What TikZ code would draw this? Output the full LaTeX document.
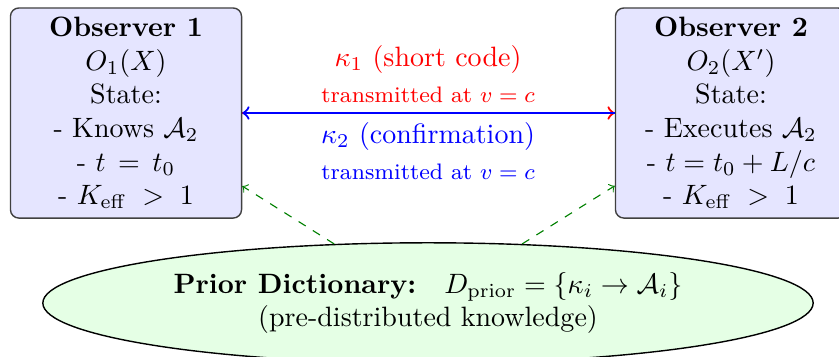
\documentclass[tikz,border=0pt]{standalone}
\usetikzlibrary{shapes.geometric}
\tikzset{
  observer/.style={draw=black!75, line width=0.5pt, rounded corners=3pt, fill=blue!10,
    align=center, minimum width=82.5pt, minimum height=75pt, inner sep=2pt},
  dict/.style={ellipse, draw=black, line width=0.5pt, fill=green!10, align=center,
    minimum width=275pt, minimum height=43pt, inner sep=1pt},
  link/.style={->, thick},
  prior/.style={->, dashed, green!50!black, line width=0.4pt},
  lab/.style={inner sep=0pt}
}
\begin{document}
\begin{tikzpicture}[x=0.357pt,y=-0.357pt]
\useasboundingbox (0,0) rectangle (839,356);
\clip (0,0) rectangle (839,356);
\node[observer] (obs1) at (126,113) {\textbf{Observer 1}\\$O_1(X)$\\State:\\- Knows $\mathcal{A}_2$\\- $t\,=\,t_0$\\- $K_{\mathrm{eff}}\;>\;1$};
\node[observer] (obs2) at (731,113) {\textbf{Observer 2}\\$O_2(X')$\\State:\\- Executes $\mathcal{A}_2$\\- $t = t_0 + L/c$\\- $K_{\mathrm{eff}}\;>\;1$};
\node[dict] (dict) at (428,303) {\textbf{Prior Dictionary:}\quad $D_{\mathrm{prior}} = \{\kappa_i \to \mathcal{A}_i\}$\\(pre-distributed knowledge)};
\draw[link, red] (obs1) -- (obs2);
\draw[link, blue] (obs2) -- (obs1);
\node[lab, red] (k1) at (428,59) {$\kappa_1$ (short code)};
\node[lab, red] (t1) at (428,95) {\footnotesize transmitted at $v=c$};
\node[lab, blue] (k2) at (428,136) {$\kappa_2$ (confirmation)};
\node[lab, blue] (t2) at (428,172) {\footnotesize transmitted at $v=c$};
\draw[prior] (dict) -- (obs1);
\draw[prior] (dict) -- (obs2);
\end{tikzpicture}
\end{document}
